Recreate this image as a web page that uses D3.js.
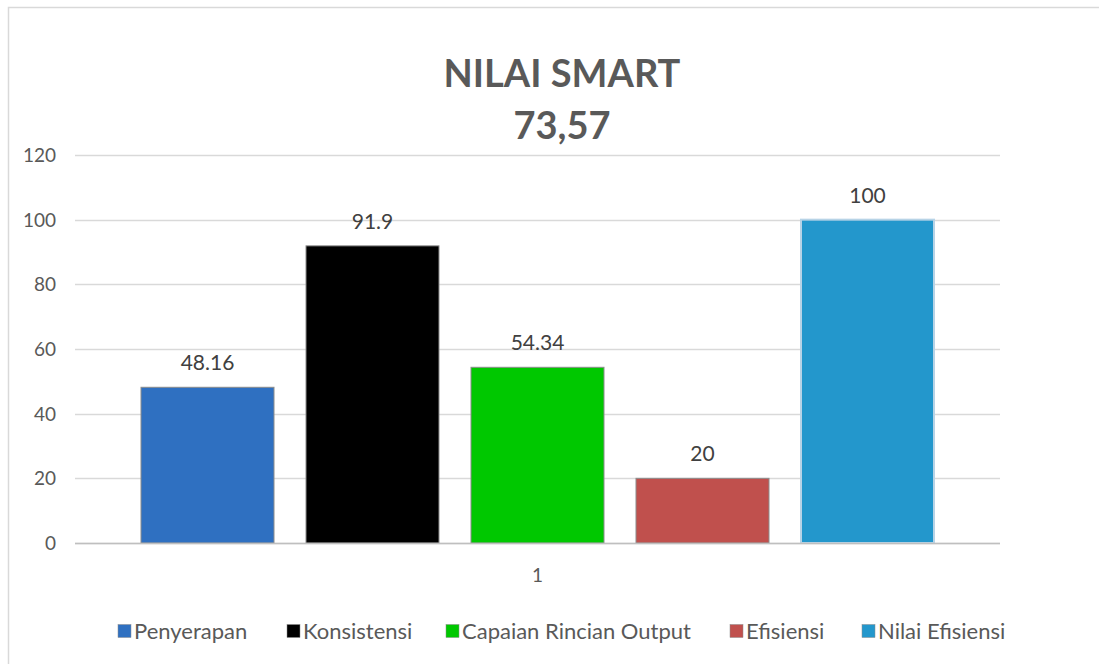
<!DOCTYPE html>
<html><head><meta charset="utf-8">
<script src="https://cdn.jsdelivr.net/npm/d3@7"></script>
<style>body{margin:0;background:#fff;}svg{display:block;font-family:Lato,"Open Sans",sans-serif;}</style>
</head><body>
<script>
const categories = ["1"];
const seriesNames = ["Penyerapan","Konsistensi","Capaian Rincian Output","Efisiensi","Nilai Efisiensi"];
const seriesValues = [48.16, 91.9, 54.34, 20, 100];
const valueLabels = ["48.16","91.9","54.34","20","100"];
const seriesColors = ["#2F70C1","#000000","#00C800","#C0504D","#2397CC"];
const yTicks = [0,20,40,60,80,100,120];
const titleLines = ["NILAI SMART","73,57"];

const W=1099,H=664;
const svg=d3.select("body").append("svg").attr("width",W).attr("height",H);
svg.append("rect").attr("x",8.5).attr("y",7.5).attr("width",W).attr("height",H).attr("fill","#fff").attr("stroke","#d9d9d9").attr("stroke-width",1.5);

const x0=d3.scaleBand().domain(categories).range([75,1000]);
const x1=d3.scaleBand().domain(seriesNames).range([0,x0.bandwidth()]).paddingInner(32/165).paddingOuter(0.4);
const y=d3.scaleLinear().domain([0,120]).range([543,155]);

// gridlines
svg.append("g").selectAll("line").data(yTicks).join("line")
 .attr("x1",75).attr("x2",1000).attr("y1",d=>Math.round(y(d))+0.5).attr("y2",d=>Math.round(y(d))+0.5)
 .attr("stroke","#d9d9d9").attr("stroke-width",1.5);

// y axis labels
const yAxis=d3.axisLeft(y).tickValues(yTicks).tickSize(0).tickPadding(0);
const ya=svg.append("g").attr("transform","translate(56,0)").call(yAxis);
ya.select(".domain").remove();
ya.selectAll("text").attr("font-size",19).attr("fill","#595959").attr("font-family","Lato,sans-serif").attr("dy","0.35em");

// bars
const g=svg.append("g").attr("transform",`translate(${x0(categories[0])},0)`);
g.selectAll("rect").data(seriesNames).join("rect")
 .attr("x",d=>x1(d)).attr("width",x1.bandwidth())
 .attr("y",(d,i)=>y(seriesValues[i])).attr("height",(d,i)=>y(0)-y(seriesValues[i]))
 .attr("fill",(d,i)=>seriesColors[i])
 .attr("stroke",(d,i)=>i===4?"#b7d3e6":"#8c8c8c").attr("stroke-width",(d,i)=>i===4?2:1);
g.selectAll("text").data(seriesNames).join("text")
 .attr("x",d=>x1(d)+x1.bandwidth()/2).attr("y",(d,i)=>y(seriesValues[i])-17)
 .attr("text-anchor","middle").attr("font-size",21).attr("fill","#404040")
 .text((d,i)=>valueLabels[i]);

// x axis line & category label
svg.append("line").attr("x1",75).attr("x2",1000).attr("y1",543.5).attr("y2",543.5).attr("stroke","#bfbfbf").attr("stroke-width",1.5);
const xa=svg.append("g").attr("transform","translate(0,543)").call(d3.axisBottom(x0).tickSize(0).tickPadding(0));
xa.select(".domain").remove();
xa.selectAll("text").attr("font-size",19).attr("fill","#595959").attr("font-family","Lato,sans-serif").attr("dy","0").attr("y",39);

// title
svg.selectAll(".title").data(titleLines).join("text").attr("class","title")
 .attr("x",562).attr("y",(d,i)=>87+i*52).attr("text-anchor","middle")
 .attr("font-size",38).attr("font-weight","bold").attr("fill","#595959").text(d=>d);

// legend
const legendX=[118,287,446,730,862];
const lg=svg.append("g").selectAll("g").data(seriesNames).join("g")
 .attr("transform",(d,i)=>`translate(${legendX[i]},631)`);
lg.append("rect").attr("x",0).attr("y",-6.5).attr("width",13).attr("height",13)
 .attr("fill",(d,i)=>seriesColors[i]).attr("stroke","#8c8c8c").attr("stroke-width",0.5);
lg.append("text").attr("x",16).attr("y",0).attr("dy","0.35em").attr("font-size",22).attr("fill","#595959").text(d=>d);
</script>
</body></html>
